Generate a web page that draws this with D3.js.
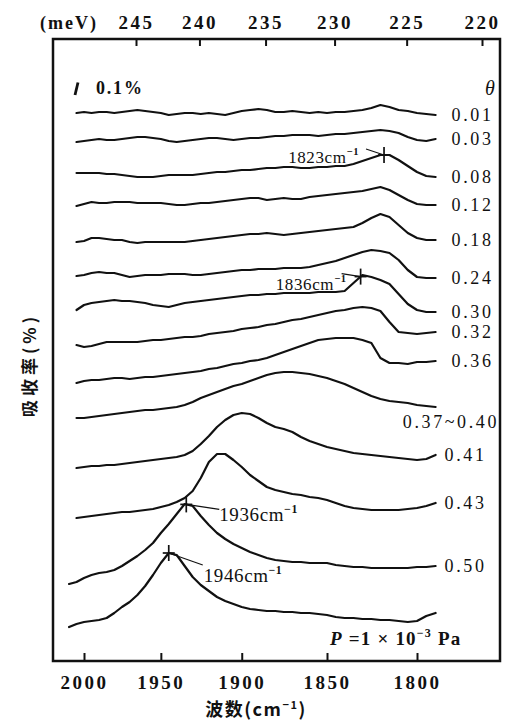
<!DOCTYPE html>
<html><head><meta charset="utf-8">
<script src="https://cdn.jsdelivr.net/npm/d3@7"></script>
<style>body{margin:0;background:#fff}svg{display:block}</style>
</head><body><svg id="c" width="518" height="727"></svg>
<script>
// ---- data (absorbance in %) ----
const wavenumbers = [2010,2005,2000,1995,1990,1985,1980,1975,1970,1965,1960,1955,1950,1945,1940,1935,1930,1925,1920,1915,1910,1905,1900,1895,1890,1885,1880,1875,1870,1865,1860,1855,1850,1845,1840,1835,1830,1825,1820,1815,1810,1805,1800,1795,1790];
const bottomTicks = [2000,1950,1900,1850,1800];
const topTicks = [245,240,235,230,225,220];
const thetaLabels = ["0.01","0.03","0.08","0.12","0.18","0.24","0.30","0.32","0.36","0.37~0.40","0.41","0.43","0.50",""];
const offsets = [4.376,4.144,3.896,3.632,3.344,3.072,2.8,2.52,2.216,1.936,1.536,1.136,0.608,0.264];
const s001 = [null,0,.008,0,.008,.008,0,.008,.016,.024,.016,.008,0,-.016,-.008,0,0,-.008,0,-.008,-.016,0,.016,.024,.032,.024,.008,.008,.016,.008,0,.008,0,.008,.008,.016,.024,.04,.064,.048,.024,.016,0,-.008,-.016];
const s003 = [null,0,.008,.016,.024,.016,.016,.024,.032,.04,.04,.032,.024,.008,0,.008,.016,.024,.032,.032,.024,.016,.024,.032,.032,.04,.048,.048,.056,.056,.056,.048,.056,.064,.064,.072,.08,.088,.096,.088,.072,.04,.016,.008,.024];
const s008 = [null,0,0,0,0,-.008,-.008,-.016,-.024,-.032,-.032,-.032,-.024,-.016,-.016,-.016,-.016,-.008,0,.008,.008,.016,.024,.024,.032,.04,.04,.048,.048,.04,.04,.048,.048,.056,.056,.072,.096,.12,.144,.144,.104,.056,.008,-.024,-.032];
const s012 = [null,0,.016,.032,.024,.024,.032,.032,.032,.024,.024,.024,.024,.016,.008,.008,.016,.024,.024,.032,.04,.048,.056,.064,.064,.048,.056,.064,.056,.056,.072,.08,.088,.096,.104,.112,.12,.136,.152,.128,.088,.048,.016,.008,.008];
const s018 = [null,0,.008,.032,.032,.024,.016,.016,0,-.008,0,0,0,0,0,0,.008,.016,.024,.032,.04,.048,.056,.064,.064,.072,.064,.056,.064,.072,.08,.088,.096,.104,.112,.12,.152,.192,.224,.2,.136,.072,.032,.016,.016];
const s024 = [null,0,.008,.024,.032,.024,.024,.008,-.008,0,.008,.008,.008,.016,.016,.016,.008,.008,.016,.024,.032,.04,.048,.048,.056,.056,.056,.064,.064,.064,.072,.088,.104,.12,.144,.168,.192,.208,.2,.184,.128,.048,-.008,-.016,-.016];
const s030 = [null,0,.04,.056,.064,.072,.08,.072,.072,.064,.056,.04,.032,.024,.04,.056,.064,.072,.08,.088,.096,.104,.112,.12,.12,.128,.128,.136,.136,.136,.136,.144,.144,.144,.152,.216,.28,.264,.24,.208,.128,.048,0,-.016,-.016];
const s032 = [null,0,-.016,-.008,.008,.024,.024,.024,.024,.024,.032,.04,.04,.048,.056,.064,.064,.072,.088,.096,.104,.112,.128,.136,.144,.16,.168,.184,.2,.208,.224,.24,.256,.272,.28,.296,.304,.296,.272,.184,.104,.096,.088,.096,.104];
const s036 = [null,0,.016,.024,.024,.032,.04,.04,.032,.04,.048,.048,.056,.064,.072,.08,.088,.096,.112,.12,.136,.152,.16,.176,.184,.2,.224,.248,.272,.296,.32,.344,.352,.36,.36,.36,.344,.32,.2,.16,.16,.152,.168,.168,.176];
const s037 = [null,0,0,.008,.016,.024,.032,.04,.048,.056,.064,.064,.072,.08,.088,.104,.128,.16,.184,.208,.232,.256,.272,.296,.32,.344,.36,.368,.368,.36,.352,.336,.32,.296,.272,.24,.208,.176,.152,.136,.128,.12,.104,.096,.088];
const s041 = [null,0,.008,.016,.016,.024,.024,.032,.04,.048,.056,.064,.072,.08,.088,.104,.136,.192,.256,.328,.384,.424,.44,.432,.4,.36,.328,.312,.288,.248,.216,.192,.168,.152,.136,.12,.112,.104,.096,.088,.08,.072,.064,.072,.104];
const s043 = [null,0,.008,.016,.024,.032,.04,.048,.048,.056,.064,.072,.088,.104,.128,.16,.216,.32,.448,.512,.512,.464,.408,.344,.296,.248,.224,.208,.192,.184,.168,.16,.144,.12,.096,.08,.072,.064,.064,.064,.064,.072,.08,.096,.12];
const s050 = [0,.016,.048,.072,.088,.096,.112,.144,.184,.224,.272,.328,.408,.48,.56,.64,.624,.544,.472,.408,.36,.32,.288,.256,.232,.208,.192,.184,.176,.176,.168,.168,.168,.152,.144,.136,.136,.128,.128,.128,.128,.128,.136,.136,.144];
const sP = [0,.024,.04,.048,.056,.072,.112,.16,.2,.256,.328,.416,.512,.592,.576,.488,.4,.336,.288,.24,.208,.184,.16,.144,.136,.128,.128,.12,.12,.112,.112,.104,.096,.08,.072,.072,.064,.064,.056,.056,.048,.04,.048,.088,.112];
const series = [s001,s003,s008,s012,s018,s024,s030,s032,s036,s037,s041,s043,s050,sP];
const markerWavenumbers = [1818,1831,1934,1945];
const markerSeries = [2,6,12,13];
const markerTexts = ["1823cm","1836cm","1936cm","1946cm"];

// ---- layout ----
const svg = d3.select("#c");
const frame = {l:53, t:39, r:500, b:661};
const serif = "'Liberation Serif','DejaVu Serif',serif";
const cjk = "'Noto Sans CJK SC','Noto Sans CJK JP',sans-serif";
const ink = "#111";

const x = d3.scalePow().exponent(-1).domain([2000,1800]).range([84,417]);
const xTop = d3.scalePow().exponent(-1).domain([245,220]).range([136,482]);
const y = d3.scaleLinear().domain([0,5]).range([660,35]);

svg.append("rect").attr("x",frame.l).attr("y",frame.t)
  .attr("width",frame.r-frame.l).attr("height",frame.b-frame.t)
  .attr("fill","none").attr("stroke",ink).attr("stroke-width",2.5);

const gb = svg.append("g").attr("transform",`translate(0,${frame.b})`)
  .call(d3.axisBottom(x).tickValues(bottomTicks).tickSize(-8).tickPadding(15).tickFormat(d3.format("d")));
const gt = svg.append("g").attr("transform",`translate(0,${frame.t})`)
  .call(d3.axisTop(xTop).tickValues(topTicks).tickSize(-7).tickPadding(10).tickFormat(d3.format("d")));
[gb,gt].forEach(g=>{
  g.select(".domain").remove();
  g.selectAll(".tick line").attr("stroke",ink).attr("stroke-width",2);
  g.selectAll(".tick text").attr("fill",ink).attr("font-family",serif)
    .attr("font-size",19).attr("font-weight","bold").attr("letter-spacing",2.5);
});
svg.append("text").attr("x",40).attr("y",29).attr("font-family",serif)
  .attr("font-size",18).attr("font-weight","bold").attr("letter-spacing",2).attr("fill",ink).text("(meV)");

// curves
const line = d3.line().defined(d=>d[1]!=null).x(d=>x(d[0])).y(d=>y(d[1]));
series.forEach((s,i)=>{
  const pts = wavenumbers.map((w,j)=>[w, s[j]==null?null:offsets[i]+s[j]]);
  svg.append("path").attr("d",line(pts)).attr("fill","none")
    .attr("stroke",ink).attr("stroke-width",2.2).attr("stroke-linejoin","round").attr("stroke-linecap","round");
  const lab = thetaLabels[i];
  if(lab){
    const ly = y(offsets[i]+s[s.length-1]);
    const long = lab.length>5;
    svg.append("text")
      .attr("x", long ? frame.r-1 : x(wavenumbers[wavenumbers.length-1])+(i>=10?9:16))
      .attr("y", long ? ly+21 : ly+6)
      .attr("text-anchor", long ? "end" : "start")
      .attr("font-family",serif).attr("font-size",18).attr("letter-spacing",2.6)
      .attr("fill",ink).text(lab);
  }
});

// theta header and scale bar
svg.append("text").attr("x",485).attr("y",95).attr("font-family",serif)
  .attr("font-style","italic").attr("font-size",20).attr("fill",ink).text("θ");
const barLen = y(0)-y(0.1);
svg.append("line").attr("x1",75).attr("y1",95).attr("x2",78).attr("y2",95-barLen)
  .attr("stroke",ink).attr("stroke-width",2.8);
svg.append("text").attr("x",96).attr("y",94).attr("font-family",serif)
  .attr("font-size",18).attr("font-weight","bold").attr("letter-spacing",1.8).attr("fill",ink).text("0.1%");

// peak markers and annotations
const annLayout = [
  {dx:-25, dy:8, anchor:"end", lx:-18, ly:-6, fs:17},
  {dx:-14, dy:13, anchor:"end", lx:-19, ly:-3, fs:17},
  {dx:33, dy:17, anchor:"start", lx:33, ly:5, fs:19},
  {dx:35, dy:29, anchor:"start", lx:34, ly:12, fs:19}
];
function valueAt(s, w){
  for(let j=0;j<wavenumbers.length-1;j++){
    const a=wavenumbers[j], b=wavenumbers[j+1];
    if(w<=a && w>=b && s[j]!=null){ const t=(a-w)/(a-b); return s[j]+(s[j+1]-s[j])*t; }
  }
  return 0;
}
markerWavenumbers.forEach((w,k)=>{
  const si = markerSeries[k];
  const mx = x(w), my = y(offsets[si]+valueAt(series[si],w));
  const L = annLayout[k];
  svg.append("line").attr("x1",mx).attr("x2",mx).attr("y1",my-8).attr("y2",my+8).attr("stroke",ink).attr("stroke-width",1.7);
  svg.append("line").attr("x1",mx-6).attr("x2",mx+6).attr("y1",my).attr("y2",my).attr("stroke",ink).attr("stroke-width",1.7);
  svg.append("line").attr("x1",mx).attr("y1",my).attr("x2",mx+L.lx).attr("y2",my+L.ly).attr("stroke",ink).attr("stroke-width",1.1);
  const t = svg.append("text").attr("x",mx+L.dx).attr("y",my+L.dy).attr("text-anchor",L.anchor)
    .attr("font-family",serif).attr("font-size",L.fs).attr("letter-spacing",0.6).attr("fill",ink);
  t.append("tspan").text(markerTexts[k]);
  t.append("tspan").attr("dy",-8).attr("font-size",L.fs*0.62).attr("font-weight","bold").text("−1");
});

// pressure note
const pn = svg.append("text").attr("x",330).attr("y",645).attr("font-family",serif)
  .attr("font-size",19).attr("font-weight","bold").attr("letter-spacing",1.2).attr("fill",ink);
pn.append("tspan").attr("font-style","italic").text("P");
pn.append("tspan").text(" =1 × 10");
pn.append("tspan").attr("dy",-8).attr("font-size",12).text("−3");
pn.append("tspan").attr("dy",8).text(" Pa");

// axis titles
const xt = svg.append("text").attr("x",256).attr("y",716).attr("text-anchor","middle")
  .attr("font-family",cjk).attr("font-size",18).attr("font-weight","bold").attr("letter-spacing",1.5).attr("fill",ink);
xt.append("tspan").text("波数(cm");
xt.append("tspan").attr("dy",-7).attr("font-size",11).text("−1");
xt.append("tspan").attr("dy",7).text(")");
svg.append("text").attr("transform","translate(36,365) rotate(-90)").attr("text-anchor","middle")
  .attr("font-family",cjk).attr("font-size",17).attr("font-weight","bold").attr("letter-spacing",4).attr("fill",ink).text("吸收率(%)");
</script></body></html>
